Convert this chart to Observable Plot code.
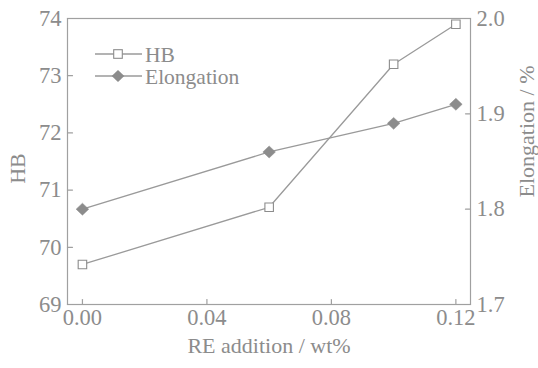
<!DOCTYPE html>
<html>
<head>
<meta charset="utf-8">
<script src="https://cdn.jsdelivr.net/npm/d3@7"></script>
<script src="https://cdn.jsdelivr.net/npm/@observablehq/plot@0.6"></script>
<style>
  html, body { margin: 0; padding: 0; background: #fff; }
  #wrap { position: relative; width: 538px; height: 368px; }
  #legend { position: absolute; left: 0; top: 0; pointer-events: none; }
</style>
</head>
<body>
<div id="wrap"></div>
<script>
// Data
const reAddition = [0.00, 0.06, 0.10, 0.12];
const hbValues = [69.7, 70.7, 73.2, 73.9];
const elongationValues = [1.80, 1.86, 1.89, 1.91];
const xTicks = [0.00, 0.04, 0.08, 0.12];
const hbTicks = [69, 70, 71, 72, 73, 74];
const elongTicks = [1.7, 1.8, 1.9, 2.0];
const seriesNames = ["HB", "Elongation"];

const hbDomain = [69, 74];
const elDomain = [1.7, 2.0];
const toHB = e => hbDomain[0] + (e - elDomain[0]) * (hbDomain[1] - hbDomain[0]) / (elDomain[1] - elDomain[0]);
const fromHB = h => elDomain[0] + (h - hbDomain[0]) * (elDomain[1] - elDomain[0]) / (hbDomain[1] - hbDomain[0]);

const hbData = reAddition.map((x, i) => ({x, y: hbValues[i]}));
const elData = reAddition.map((x, i) => ({x, y: elongationValues[i]}));

const gray = "#8c8c8c";
const lineGray = "#9a9a9a";
const font = "'Liberation Serif', 'Times New Roman', serif";

const tickLine = {draw(context, l) { context.moveTo(0, 0); context.lineTo(0, -l); }};
const diamond = {draw(context, size) {
  const r = Math.sqrt(size / Math.PI);
  context.moveTo(0, -r * 0.95); context.lineTo(r, 0); context.lineTo(0, r * 0.95); context.lineTo(-r, 0); context.closePath();
}};

const chart = Plot.plot({
  width: 538,
  height: 368,
  marginLeft: 67,
  marginRight: 68,
  marginTop: 18,
  marginBottom: 64,
  style: {fontFamily: font, fontSize: "22px", color: gray, background: "#fff"},
  x: {domain: [-0.0048, 0.1247]},
  y: {domain: hbDomain},
  marks: [
    Plot.frame({stroke: "#a0a0a0", strokeWidth: 1.2}),
    Plot.axisX({ticks: xTicks, tickSize: 0, tickPadding: 5, tickFormat: d3.format(".2f"), label: null, fontSize: 22.5}),
    Plot.axisY({ticks: hbTicks, tickSize: 0, tickPadding: 6, tickFormat: d3.format("d"), label: null, fontSize: 22.5}),
    Plot.axisY(elongTicks.map(toHB), {anchor: "right", tickSize: 0, tickPadding: 6, tickFormat: d => fromHB(d).toFixed(1), label: null, fontSize: 22.5}),
    // inward tick marks
    Plot.vector(xTicks, {x: d => d, frameAnchor: "bottom", rotate: 0, length: 5, anchor: "start", shape: tickLine, stroke: "#a0a0a0", strokeWidth: 1.2}),
    Plot.vector(hbTicks, {y: d => d, frameAnchor: "left", rotate: 90, length: 5, anchor: "start", shape: tickLine, stroke: "#a0a0a0", strokeWidth: 1.2}),
    Plot.vector(elongTicks.map(toHB), {y: d => d, frameAnchor: "right", rotate: -90, length: 5, anchor: "start", shape: tickLine, stroke: "#a0a0a0", strokeWidth: 1.2}),
    // series
    Plot.line(hbData, {x: "x", y: "y", stroke: lineGray, strokeWidth: 1.3}),
    Plot.line(elData, {x: "x", y: d => toHB(d.y), stroke: lineGray, strokeWidth: 1.3}),
    Plot.dot(hbData, {x: "x", y: "y", symbol: "square", r: 4.8, fill: "#fff", stroke: gray, strokeWidth: 1.1}),
    Plot.dot(elData, {x: "x", y: d => toHB(d.y), symbol: diamond, r: 6.3, fill: gray, stroke: gray, strokeWidth: 0.5}),
    // axis titles
    Plot.text(["HB"], {frameAnchor: "left", textAnchor: "middle", rotate: -90, dx: -50, dy: 7, fontSize: 22, fill: gray}),
    Plot.text(["Elongation / %"], {frameAnchor: "right", textAnchor: "middle", rotate: -90, dx: 56, dy: -30, fontSize: 22, fill: gray}),
    Plot.text(["RE addition / wt%"], {frameAnchor: "bottom", dy: 48, fontSize: 22, fill: gray})
  ]
});

const wrap = document.getElementById("wrap");
wrap.appendChild(chart);

// Legend overlay
const leg = d3.select(wrap).append("svg").attr("id", "legend").attr("width", 538).attr("height", 368);
const rows = [{y: 54, name: seriesNames[0], kind: "square"}, {y: 76, name: seriesNames[1], kind: "diamond"}];
rows.forEach(r => {
  const g = leg.append("g");
  g.append("line").attr("x1", 95).attr("x2", 142).attr("y1", r.y).attr("y2", r.y).attr("stroke", lineGray).attr("stroke-width", 1.3);
  if (r.kind === "square") {
    g.append("rect").attr("x", 118 - 4.3).attr("y", r.y - 4.3).attr("width", 8.6).attr("height", 8.6).attr("fill", "#fff").attr("stroke", gray).attr("stroke-width", 1.1);
  } else {
    g.append("path").attr("d", `M118,${r.y - 6}L124.3,${r.y}L118,${r.y + 6}L111.7,${r.y}Z`).attr("fill", gray);
  }
  g.append("text").attr("x", 145).attr("y", r.y).attr("dy", "0.35em").attr("font-family", font).attr("font-size", 21.5).attr("fill", gray).text(r.name);
});
</script>
</body>
</html>
